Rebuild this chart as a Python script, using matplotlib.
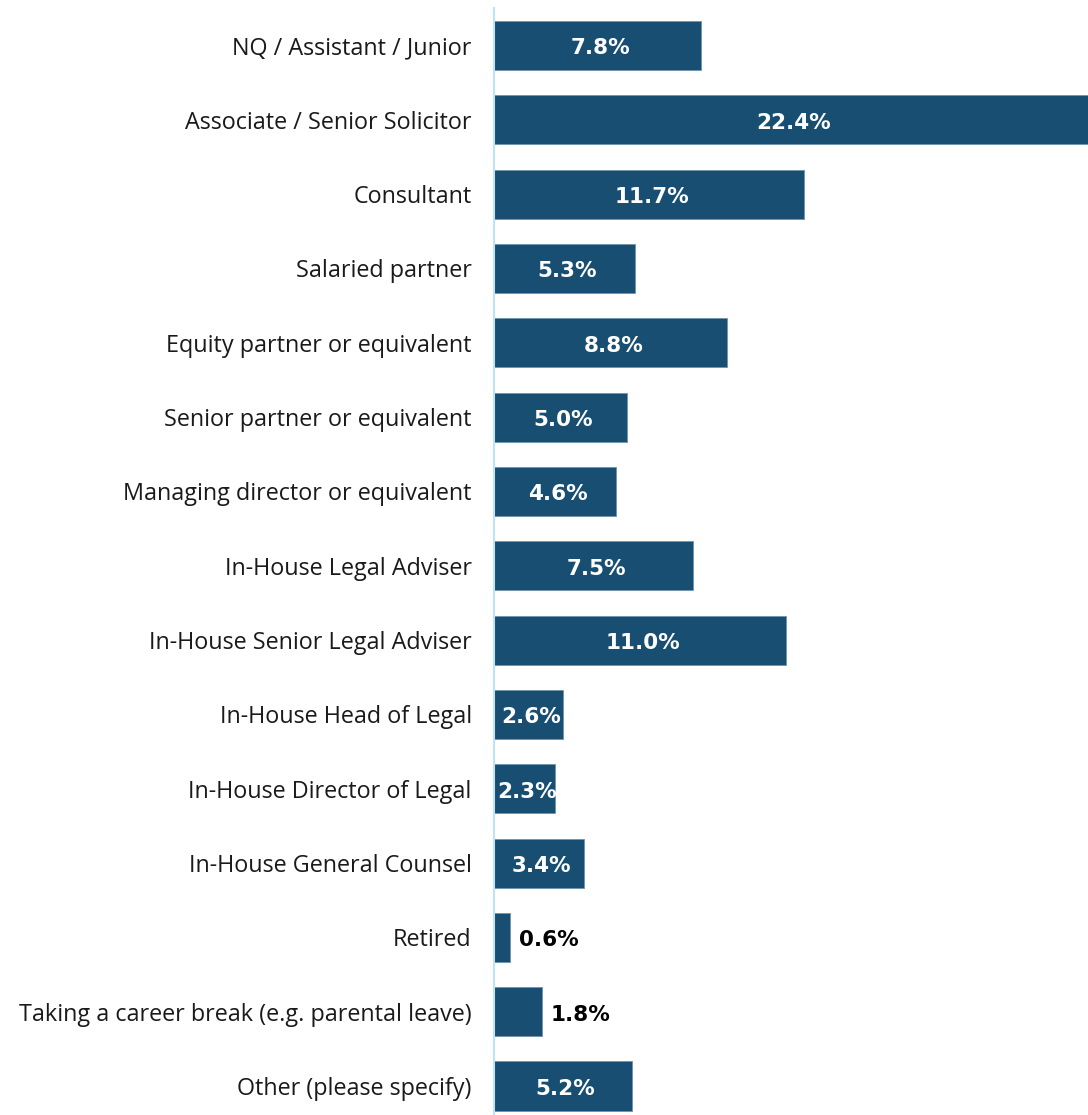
import matplotlib.pyplot as plt
import numpy as np

roles = ['NQ / Assistant / Junior', 'Associate / Senior Solicitor', 'Consultant',
         'Salaried partner', 'Equity partner or equivalent', 'Senior partner or equivalent',
         'Managing director or equivalent', 'In-House Legal Adviser',
         'In-House Senior Legal Adviser', 'In-House Head of Legal',
         'In-House Director of Legal', 'In-House General Counsel', 'Retired',
         'Taking a career break (e.g. parental leave)', 'Other (please specify)']
share = [7.8, 22.4, 11.7, 5.3, 8.8, 5.0, 4.6, 7.5, 11.0, 2.6, 2.3, 3.4, 0.6, 1.8, 5.2]

plt.rcParams['font.family'] = ['Open Sans', 'DejaVu Sans']

fig = plt.figure(figsize=(10.88, 11.15), dpi=100)
ax = fig.add_axes([494 / 1088, 0, 1 - 494 / 1088, 1 - 8 / 1115])

y = np.arange(len(roles))
ax.barh(y, share, height=0.66, color='#174E71', edgecolor='#6E93AD', linewidth=0.6)

ax.set_xlim(0, 22.4)
ax.set_ylim(len(roles) - 1 + 0.39, -0.504)
ax.set_yticks(y)
ax.set_yticklabels(roles, fontsize=16.8, color='#1a1a1a')
ax.tick_params(axis='y', length=0, pad=16)
ax.set_xticks([])
for s in ['top', 'right', 'bottom']:
    ax.spines[s].set_visible(False)
ax.spines['left'].set_color('#BDE3F5')
ax.spines['left'].set_linewidth(1.5)

# value labels: white inside, black outside for the tiny bars
for yi, v in zip(y, share):
    txt = f'{v:.1f}%'
    if v < 2:
        ax.text(v + 0.35, yi + 0.04, txt, ha='left', va='center', fontsize=15.5,
                fontweight='bold', color='black', family='DejaVu Sans')
    else:
        ax.text(v / 2 + 0.1, yi + 0.04, txt, ha='center', va='center', fontsize=15.5,
                fontweight='bold', color='white', family='DejaVu Sans')

plt.savefig('out.png', dpi=100)
